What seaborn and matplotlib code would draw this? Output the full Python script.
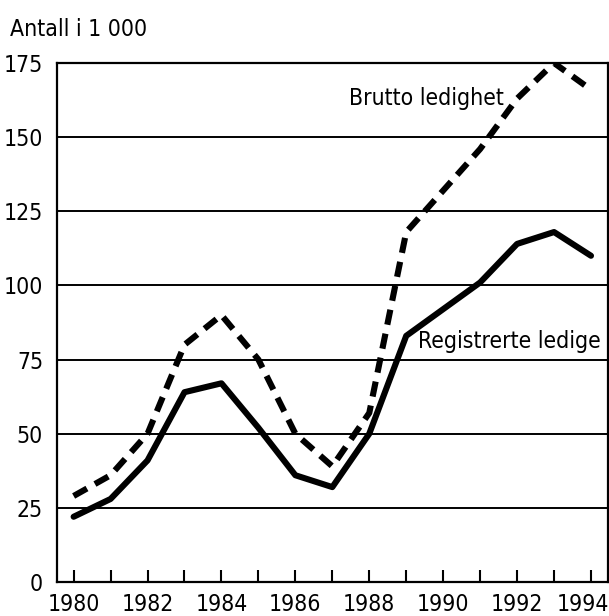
import matplotlib
matplotlib.use("Agg")
import matplotlib.pyplot as plt
import matplotlib.transforms as mtransforms
from matplotlib import font_manager
import seaborn as sns
import pandas as pd

years = list(range(1980, 1995))
registrerte = [22, 28, 41, 64, 67, 52, 36, 32, 50, 83, 92, 101, 114, 118, 110]
brutto = [29, 36, 50, 80, 90, 75, 50, 39, 57, 118, 132, 146, 163, 175, 166]
yticks = [0, 25, 50, 75, 100, 125, 150, 175]
xticks = [1980, 1982, 1984, 1986, 1988, 1990, 1992, 1994]

sns.set_theme(style="white")

fonts = font_manager.fontManager.ttflist
names = {f.name for f in fonts}
stretch = "normal"
if "Liberation Sans Narrow" in names:
    fam = ["Liberation Sans Narrow", "DejaVu Sans"]
elif any(f.name == "DejaVu Sans" and f.stretch == "condensed" for f in fonts):
    fam = ["DejaVu Sans"]
    stretch = "condensed"
else:
    fam = ["Liberation Sans", "DejaVu Sans"]
plt.rcParams['font.family'] = fam
plt.rcParams['font.stretch'] = stretch
plt.rcParams['text.color'] = 'black'
plt.rcParams['xtick.labelcolor'] = 'black'
plt.rcParams['ytick.labelcolor'] = 'black'

FS = 16.5

fig = plt.figure(figsize=(6.09, 6.16), dpi=100)
ax = fig.add_axes([57/609, 1-582/616, (608-57)/609, (582-63)/616])

df = pd.DataFrame({"year": years, "reg": registrerte, "brutto": brutto})

for y in yticks[1:]:
    ax.axhline(y, color="black", lw=1.4, zorder=1)

sns.lineplot(data=df, x="year", y="reg", ax=ax, color="black", lw=4.4, zorder=3)
sns.lineplot(data=df, x="year", y="brutto", ax=ax, color="black", lw=4.4, zorder=3)
line = ax.get_lines()[-1]
line.set_dashes((2.5, 1.5))
line.set_dash_capstyle("butt")

ax.set_xlim(1979.55, 1994.46)
ax.set_ylim(0, 175)
ax.set_yticks(yticks)
ax.set_xticks(years)
ax.set_xticklabels([str(y) if y in xticks else "" for y in years])
ax.set_xlabel("")
ax.set_ylabel("")
ax.tick_params(axis="x", direction="in", length=9, width=1.5, color="black",
               bottom=True, pad=8, labelsize=FS, labelcolor="black")
ax.tick_params(axis="y", length=0, pad=10, labelsize=FS, left=False,
               labelcolor="black")
for s in ax.spines.values():
    s.set_color("black")
    s.set_linewidth(1.6)

# nudge last year label inside the figure edge, as in the reference
last = ax.get_xticklabels()[-1]
last.set_transform(last.get_transform() +
                   mtransforms.ScaledTranslation(-8/100, 0, fig.dpi_scale_trans))

ax.text(1989.55, 163, "Brutto ledighet", fontsize=FS, ha="center", va="center",
        color="black")
ax.text(1991.8, 81, "Registrerte ledige", fontsize=FS, ha="center", va="center",
        color="black", zorder=4)
fig.text(10/609, 1-18/616, "Antall i 1 000", fontsize=FS, ha="left", va="top",
         color="black")

fig.savefig("out.png", dpi=100)
